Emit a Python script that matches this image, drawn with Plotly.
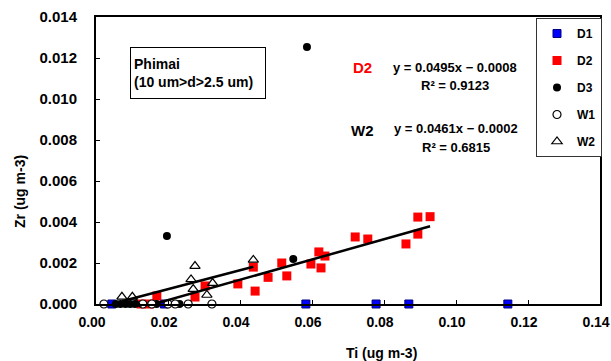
import plotly.graph_objects as go

# ---- data (Ti vs Zr, ug m-3), Phimai coarse fraction ----
d1_ti = [0.0044, 0.0190, 0.0583, 0.0778, 0.0869, 0.1144]
d1_zr = [0.0, 0.0, 0.0, 0.0, 0.0, 0.0]

d2_ti = [0.0125, 0.0148, 0.0169, 0.0275, 0.0303, 0.0394, 0.0437, 0.0442, 0.0478,
         0.0516, 0.0530, 0.0597, 0.0619, 0.0625, 0.0636, 0.0720, 0.0755, 0.0861,
         0.0894, 0.0894, 0.0928]
d2_zr = [0.0, 0.0, 0.00039, 0.00034, 0.00088, 0.00098, 0.00180, 0.00063, 0.00130,
         0.00200, 0.00137, 0.00195, 0.00254, 0.00176, 0.00234, 0.00327, 0.00317,
         0.00293, 0.00341, 0.00424, 0.00426]

d3_ti = [0.0055, 0.0068, 0.0082, 0.0095, 0.0108, 0.0155, 0.0168, 0.0232,
         0.0197, 0.0548, 0.0586]
d3_zr = [0.0, 0.0, 0.0, 0.0, 0.0, 0.0, 0.0, 0.0, 0.00332, 0.00220, 0.01254]

w1_ti = [0.0022, 0.0130, 0.0155, 0.0200, 0.0220, 0.0256, 0.0322]
w1_zr = [0.0, 0.0, 0.0, 0.0, 0.0, 0.0, 0.0]

w2_ti = [0.0085, 0.0112, 0.0072, 0.0101, 0.0264, 0.0275, 0.0270, 0.0308, 0.0324, 0.0437]
w2_zr = [0.0, 0.0, 0.00035, 0.00035, 0.00120, 0.00185, 0.00073, 0.00044, 0.00102, 0.00215]

# axis ticks
x_ticks = [0.00, 0.02, 0.04, 0.06, 0.08, 0.10, 0.12, 0.14]
y_ticks = [0.000, 0.002, 0.004, 0.006, 0.008, 0.010, 0.012, 0.014]

# linear trend coefficients (slope, intercept, R^2)
d2_fit = (0.0495, -0.0008, 0.9123)
w2_fit = (0.0461, -0.0002, 0.6815)

# ---- layout geometry helpers (paper coordinates) ----
L, R, T, B = 96, 600, 17, 304
W, H = 611, 361


def px(x):
    return (x - L) / (R - L)


def py(y):
    return (B - y) / (B - T)


FONT = "Liberation Sans, Arial, sans-serif"


def bold(size, color="black"):
    return dict(family=FONT, size=size, color=color, weight="bold")


fig = go.Figure()


def add_series(name, xs, ys, marker):
    fig.add_trace(go.Scatter(x=xs, y=ys, mode="markers", name=name, marker=marker,
                             cliponaxis=False, legendgroup=name))


add_series("D1", d1_ti, d1_zr, dict(symbol="square", size=8, color="#0000FF",
                                    line=dict(color="#000080", width=1)))
add_series("D2", d2_ti, d2_zr, dict(symbol="square", size=9, color="#FF0000",
                                    line=dict(width=0)))
add_series("D3", d3_ti, d3_zr, dict(symbol="circle", size=8, color="black",
                                    line=dict(width=0)))
add_series("W1", w1_ti, w1_zr, dict(symbol="circle", size=8, color="white",
                                    line=dict(color="black", width=1.2)))
add_series("W2", w2_ti, w2_zr, dict(symbol="triangle-up-open", size=9, color="black",
                                    line=dict(color="black", width=1.2)))


def add_trend(xs, ys, fit):
    slope, icpt, _ = fit
    pts = [x for x, y in zip(xs, ys) if y > 0]
    x0, x1 = min(pts), max(pts)
    fig.add_trace(go.Scatter(x=[x0, x1], y=[slope * x0 + icpt, slope * x1 + icpt],
                             mode="lines", line=dict(color="black", width=2.5),
                             showlegend=False, hoverinfo="skip"))


add_trend(d2_ti, d2_zr, d2_fit)
add_trend(w2_ti, w2_zr, w2_fit)

fig.update_xaxes(range=[0, 0.14], tickvals=x_ticks,
                 ticktext=[f"{v:.2f}" for v in x_ticks],
                 ticklabeloverflow="allow", ticklabelshift=-4, automargin=False,
                 showgrid=False, zeroline=False, showline=True, linecolor="black",
                 linewidth=2, mirror=True, ticks="inside", ticklen=4, tickcolor="black",
                 ticklabelstandoff=4, tickfont=bold(14))
fig.update_yaxes(range=[0, 0.014], tickvals=y_ticks,
                 ticktext=[f"{v:.3f}" for v in y_ticks], automargin=False,
                 showgrid=False, zeroline=False, showline=True, linecolor="black",
                 linewidth=2, mirror=True, ticks="inside", ticklen=4, tickcolor="black",
                 ticklabelstandoff=14, tickfont=bold(15))

ann = []


def text(x, y, s, size=13, color="black", **kw):
    ann.append(dict(xref="paper", yref="paper", x=px(x), y=py(y), text=s,
                    xanchor="center", yanchor="middle",
                    showarrow=False, font=bold(size, color), **kw))


text(362, 67, "D2", size=15, color="#FF0000")
text(455, 67, "y = 0.0495x − 0.0008")
text(455, 85, f"R² = {d2_fit[2]:.4f}")
text(362, 130, "W2", size=15)
text(456, 128, "y = 0.0461x − 0.0002")
text(456, 147, f"R² = {w2_fit[2]:.4f}")
text(381, 353, "Ti (ug m-3)", size=14)
text(20, 192, "Zr (ug m-3)", size=14, textangle=-90)
ann.append(dict(xref="paper", yref="paper", x=px(130), y=py(47), xanchor="left",
                yanchor="top", showarrow=False, align="left", width=128, height=44,
                text="Phimai<br>(10 um>d>2.5 um)", font=bold(14),
                bordercolor="black", borderwidth=1, borderpad=3, bgcolor="white"))

fig.update_layout(
    width=W, height=H,
    margin=dict(l=L, r=W - R, t=T, b=H - B, pad=0, autoexpand=False),
    paper_bgcolor="white", plot_bgcolor="white",
    annotations=ann,
    showlegend=True,
    legend=dict(x=px(602), y=py(18), xanchor="right", yanchor="top",
                bgcolor="white", bordercolor="#333333", borderwidth=1,
                tracegroupgap=8, itemwidth=30, font=bold(12)),
)

fig.write_html("out.html")
